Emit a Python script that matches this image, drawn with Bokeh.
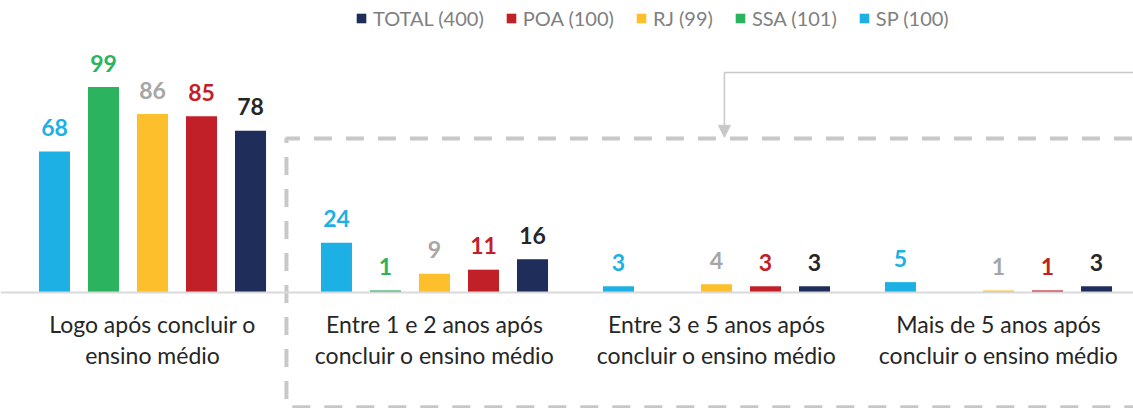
from bokeh.plotting import figure
from bokeh.models import Range1d, Legend, LegendItem, Span, Arrow, NormalHead, ColumnDataSource
from bokeh.core.properties import value
from bokeh.embed import file_html
from bokeh.resources import INLINE

categories = ["Logo após concluir o\nensino médio",
              "Entre 1 e 2 anos após\nconcluir o ensino médio",
              "Entre 3 e 5 anos após\nconcluir o ensino médio",
              "Mais de 5 anos após\nconcluir o ensino médio"]
series_names = ["SP", "SSA", "RJ", "POA", "TOTAL"]
legend_labels = {"SP": "SP (100)", "SSA": "SSA (101)", "RJ": "RJ (99)",
                 "POA": "POA (100)", "TOTAL": "TOTAL (400)"}
sp = [68, 24, 3, 5]
ssa = [99, 1, 0, 0]
rj = [86, 9, 4, 1]
poa = [85, 11, 3, 1]
total = [78, 16, 3, 3]
values = {"SP": sp, "SSA": ssa, "RJ": rj, "POA": poa, "TOTAL": total}

bar_colors = {"SP": "#1cb0e5", "SSA": "#2bb35f", "RJ": "#fdbf2b",
              "POA": "#c22029", "TOTAL": "#1e2d59"}
label_colors = {"SP": "#1cb0e5", "SSA": "#2bb35f", "RJ": "#a6a6a6",
                "POA": "#c22029", "TOTAL": "#262626"}

W, H = 1133, 408
p = figure(width=W, height=H, output_backend="svg", toolbar_location=None,
           x_range=Range1d(-11 / 282, 1122 / 282), y_range=Range1d(-116 / 2.075, 292 / 2.075),
           x_axis_location=None, y_axis_location=None, min_border=0)
p.xgrid.visible = False
p.ygrid.visible = False
p.outline_line_color = None
p.background_fill_color = "white"

step = 0.1738
bw = 0.11
renderers = {}
for k, name in enumerate(series_names):
    off = (k - 2) * step
    xs = [i + 0.5 + off for i in range(len(categories))]
    vals = values[name]
    src = ColumnDataSource(dict(x=xs, top=vals,
                                lab=[str(v) if v > 0 else "" for v in vals]))
    r = p.vbar(x="x", top="top", bottom=0, width=bw, source=src,
               fill_color=bar_colors[name], line_color=None)
    renderers[name] = r
    p.text(x="x", y="top", text="lab", source=src, text_align="center",
           text_baseline="alphabetic", y_offset=-24,
           text_font=value("Lato"), text_font_style="bold",
           text_font_size="23px", text_color=label_colors[name])

# baseline
p.add_layout(Span(location=0, dimension="width", line_color="#d9d9d9", line_width=2))

# category labels
csrc = ColumnDataSource(dict(x=[i + 0.5 for i in range(len(categories))],
                             y=[-8.6] * len(categories), t=categories))
p.text(x="x", y="y", text="t", source=csrc, text_align="center",
       text_baseline="top", text_font=value("Lato"), text_font_size="23px",
       text_color="#262626", text_line_height=1.1)

# dashed box
bx0, by_top, by_bot, bx1 = 0.975, 74.2, -55.3, 4.2
p.line(x=[bx1, bx0, bx0, bx1], y=[by_top, by_top, by_bot, by_bot],
       line_color="#c8c8c8", line_width=4, line_dash="18 14")

# arrow
ax, ay = 2.528, 106.0
p.line(x=[bx1, ax], y=[ay, ay], line_color="#c8c8c8", line_width=1.5)
p.add_layout(Arrow(end=NormalHead(size=12, fill_color="#c8c8c8", line_color="#c8c8c8"),
                   x_start=ax, y_start=ay, x_end=ax, y_end=by_top + 0.6,
                   line_color="#c8c8c8", line_width=1.5))

legend = Legend(items=[LegendItem(label=legend_labels[n], renderers=[renderers[n]])
                       for n in ["TOTAL", "POA", "RJ", "SSA", "SP"]],
                orientation="horizontal", location=(355, 378),
                glyph_width=12, glyph_height=12, label_standoff=6, spacing=21,
                padding=0, margin=0, border_line_alpha=0, background_fill_alpha=0,
                label_text_font="Lato", label_text_font_size="20px",
                label_text_color="#7f7f7f", label_height=20)
p.add_layout(legend)

open("out.html", "w").write(file_html(p, INLINE))
